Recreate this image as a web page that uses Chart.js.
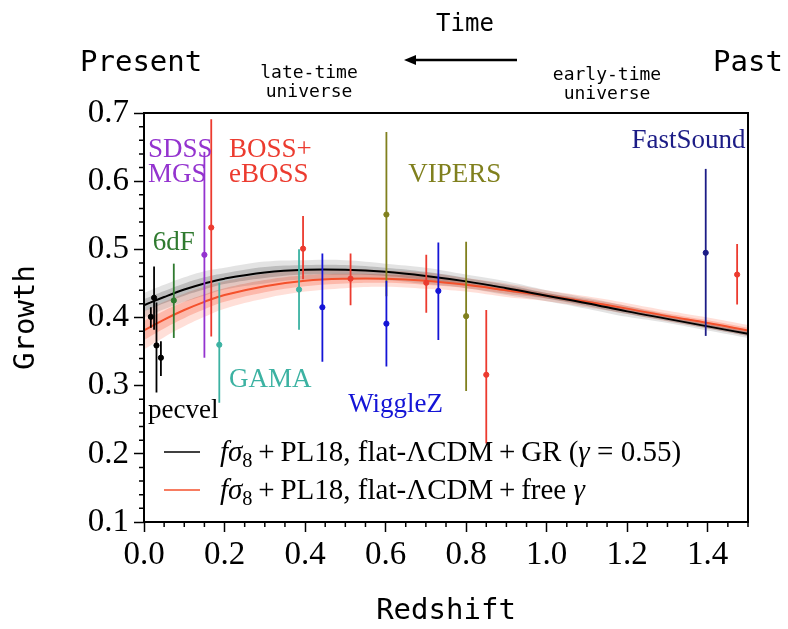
<!DOCTYPE html>
<html>
<head>
<meta charset="utf-8">
<title>Growth of structure vs redshift</title>
<script src="https://cdn.jsdelivr.net/npm/chart.js@4.4.1/dist/chart.umd.min.js"></script>
<style>
  html, body { margin: 0; padding: 0; background: #fff; }
</style>
</head>
<body>
<canvas id="growthChart" width="788" height="629"></canvas>
<script>

/* ================= DATA ================= */

const xTicks = [0.0, 0.2, 0.4, 0.6, 0.8, 1.0, 1.2, 1.4];
const yTicks = [0.1, 0.2, 0.3, 0.4, 0.5, 0.6, 0.7];

// model curves (fsigma8 vs z)
const curveZ   = [0, 0.05, 0.1, 0.15, 0.2, 0.3, 0.4, 0.5, 0.6, 0.7, 0.8, 0.9, 1.0, 1.1, 1.2, 1.3, 1.4, 1.5];
const grFs8    = [0.418, 0.430, 0.441, 0.450, 0.457, 0.466, 0.470, 0.470, 0.467, 0.461, 0.453, 0.443, 0.432, 0.421, 0.409, 0.398, 0.387, 0.376];
const grErr    = [0.009, 0.009, 0.009, 0.009, 0.008, 0.008, 0.007, 0.007, 0.006, 0.006, 0.005, 0.005, 0.004, 0.004, 0.004, 0.003, 0.003, 0.003];
const freeFs8  = [0.381, 0.397, 0.411, 0.423, 0.433, 0.446, 0.454, 0.457, 0.457, 0.454, 0.448, 0.440, 0.432, 0.423, 0.413, 0.402, 0.392, 0.381];
const freeErr  = [0.014, 0.013, 0.012, 0.011, 0.010, 0.009, 0.008, 0.007, 0.006, 0.006, 0.005, 0.005, 0.004, 0.004, 0.004, 0.004, 0.004, 0.004];

// measurements: [z, value, low, high]
const pecvel    = [[0.017, 0.401, 0.385, 0.415], [0.025, 0.429, 0.382, 0.475], [0.031, 0.359, 0.290, 0.422], [0.042, 0.341, 0.314, 0.365]];
const sixdf     = [[0.074, 0.425, 0.370, 0.479]];
const sdssMgs   = [[0.150, 0.492, 0.341, 0.643]];
const bossEboss = [[0.167, 0.532, 0.372, 0.691], [0.395, 0.501, 0.456, 0.549], [0.513, 0.457, 0.418, 0.494],
                   [0.701, 0.451, 0.407, 0.492], [0.850, 0.316, 0.215, 0.411], [1.473, 0.463, 0.419, 0.508]];
const gama      = [[0.187, 0.360, 0.275, 0.451], [0.385, 0.441, 0.382, 0.500]];
const wigglez   = [[0.443, 0.415, 0.335, 0.494], [0.602, 0.391, 0.328, 0.454], [0.731, 0.439, 0.367, 0.510]];
const vipers    = [[0.602, 0.551, 0.431, 0.672], [0.800, 0.402, 0.292, 0.511]];
const fastsound = [[1.395, 0.495, 0.373, 0.618]];

/* ================= STYLE ================= */

const surveys = [
  { name: "VIPERS",    points: vipers,    color: "#80801e" },
  { name: "BOSS",      points: bossEboss, color: "#ec3b2f" },
  { name: "SDSS MGS",  points: sdssMgs,   color: "#9433cf" },
  { name: "GAMA",      points: gama,      color: "#3cb2a2" },
  { name: "WiggleZ",   points: wigglez,   color: "#1414d6" },
  { name: "6dF",       points: sixdf,     color: "#2f7a2f" },
  { name: "FastSound", points: fastsound, color: "#1c1c86" },
  { name: "pecvel",    points: pecvel,    color: "#000000" }
];

const colorOf = name => surveys.find(s => s.name === name).color;

const surveyLabels = [
  { text: "SDSS",      x: 0.010, y: 0.635, color: colorOf("SDSS MGS") },
  { text: "MGS",       x: 0.010, y: 0.599, color: colorOf("SDSS MGS") },
  { text: "BOSS+",     x: 0.211, y: 0.635, color: colorOf("BOSS") },
  { text: "eBOSS",     x: 0.211, y: 0.599, color: colorOf("BOSS") },
  { text: "6dF",       x: 0.022, y: 0.499, color: colorOf("6dF") },
  { text: "VIPERS",    x: 0.656, y: 0.599, color: colorOf("VIPERS") },
  { text: "FastSound", x: 1.494, y: 0.649, color: colorOf("FastSound"), align: "right" },
  { text: "GAMA",      x: 0.211, y: 0.298, color: colorOf("GAMA") },
  { text: "WiggleZ",   x: 0.507, y: 0.261, color: colorOf("WiggleZ") },
  { text: "pecvel",    x: 0.010, y: 0.253, color: colorOf("pecvel") }
];

const MONO = "'DejaVu Sans Mono', monospace";
const SERIF = "'Liberation Serif', serif";
const TS = "\u2009"; // thin space around math operators

/* ================= DATASETS ================= */

function curvePts(vals, errs, k) {
  return curveZ.map((z, i) => ({ x: z, y: vals[i] + k * errs[i] }));
}

function bandPair(vals, errs, k, color, order) {
  return [
    { type: "line", data: curvePts(vals, errs, k), borderWidth: 0, pointRadius: 0,
      backgroundColor: color, fill: "+1", tension: 0.4, order: order },
    { type: "line", data: curvePts(vals, errs, -k), borderWidth: 0, pointRadius: 0,
      fill: false, tension: 0.4, order: order }
  ];
}

const datasets = [
  ...bandPair(freeFs8, freeErr, 2, "rgba(255,120,90,0.24)", 20),
  ...bandPair(freeFs8, freeErr, 1, "rgba(250,95,65,0.30)", 19),
  ...bandPair(grFs8, grErr, 2, "rgba(0,0,0,0.11)", 18),
  ...bandPair(grFs8, grErr, 1, "rgba(0,0,0,0.17)", 17),
  { type: "line", label: "free", data: curvePts(freeFs8, freeErr, 0), borderColor: "#f4512c",
    borderWidth: 2, pointRadius: 0, fill: false, tension: 0.4, order: 16 },
  { type: "line", label: "gr", data: curvePts(grFs8, grErr, 0), borderColor: "#000000",
    borderWidth: 2, pointRadius: 0, fill: false, tension: 0.4, order: 15 }
];

surveys.forEach((s, i) => {
  const bars = [];
  s.points.forEach(p => {
    bars.push({ x: p[0], y: p[2] }, { x: p[0], y: p[3] }, { x: p[0], y: null });
  });
  datasets.push({
    type: "line", data: bars, borderColor: s.color, borderWidth: 1.8,
    pointRadius: 0, fill: false, spanGaps: false, order: 10 - i
  });
  datasets.push({
    type: "scatter", data: s.points.map(p => ({ x: p[0], y: p[1] })),
    backgroundColor: s.color, borderColor: s.color, pointRadius: 2.6, order: 10 - i
  });
});

/* ================= DECORATION ================= */

function drawSegments(ctx, x, y, segs, size) {
  segs.forEach(seg => {
    const sz = seg.sub ? size * 0.7 : size;
    ctx.font = (seg.it ? "italic " : "") + sz + "px " + SERIF;
    ctx.fillText(seg.t, x, y + (seg.sub ? size * 0.2 : 0));
    x += ctx.measureText(seg.t).width;
  });
}

const decorPlugin = {
  id: "decor",
  afterDraw(chart) {
    const ctx = chart.ctx;
    const { left, right, top, bottom } = chart.chartArea;
    const xs = chart.scales.x, ys = chart.scales.y;

    ctx.save();

    // frame
    ctx.strokeStyle = "#000";
    ctx.lineWidth = 2;
    ctx.strokeRect(left, top, right - left, bottom - top);

    // minor ticks
    ctx.lineWidth = 1.5;
    ctx.beginPath();
    for (let k = 0; k <= 30; k++) {
      if (k % 5 === 0) continue;
      const py = ys.getPixelForValue(0.1 + k * 0.02);
      ctx.moveTo(left, py); ctx.lineTo(left - 5, py);
    }
    for (let k = 0; k <= 30; k++) {
      if (k % 4 === 0) continue;
      const px = xs.getPixelForValue(k * 0.05);
      ctx.moveTo(px, bottom); ctx.lineTo(px, bottom + 5);
    }
    ctx.stroke();

    // survey labels
    ctx.textBaseline = "alphabetic";
    ctx.font = "27px " + SERIF;
    surveyLabels.forEach(l => {
      ctx.fillStyle = l.color;
      ctx.textAlign = l.align || "left";
      ctx.fillText(l.text, xs.getPixelForValue(l.x), ys.getPixelForValue(l.y));
    });
    ctx.textAlign = "left";

    // legend
    const grSet = chart.data.datasets.find(d => d.label === "gr");
    const freeSet = chart.data.datasets.find(d => d.label === "free");
    const rows = [
      { y: 452, color: grSet.borderColor,
        segs: [{ t: "f", it: 1 }, { t: "σ", it: 1 }, { t: "8", sub: 1 },
               { t: TS + "+" + TS + "PL18, flat-ΛCDM" + TS + "+" + TS + "GR (" }, { t: "γ", it: 1 },
               { t: " = 0.55)" }] },
      { y: 490, color: freeSet.borderColor,
        segs: [{ t: "f", it: 1 }, { t: "σ", it: 1 }, { t: "8", sub: 1 },
               { t: TS + "+" + TS + "PL18, flat-ΛCDM" + TS + "+" + TS + "free " }, { t: "γ", it: 1 }] }
    ];
    rows.forEach(r => {
      ctx.strokeStyle = r.color;
      ctx.lineWidth = 1.5;
      ctx.beginPath();
      ctx.moveTo(164, r.y); ctx.lineTo(200, r.y);
      ctx.stroke();
      ctx.fillStyle = "#000";
      drawSegments(ctx, 220, r.y + 9, r.segs, 29);
    });

    // header: time direction
    ctx.fillStyle = "#000";
    ctx.textAlign = "center";
    ctx.font = "24px " + MONO;
    ctx.fillText("Time", 465, 31);
    ctx.font = "29px " + MONO;
    ctx.textAlign = "left";
    ctx.fillText("Present", 80, 71);
    ctx.fillText("Past", 713, 71);
    ctx.textAlign = "center";
    ctx.font = "18px " + MONO;
    ctx.fillText("late-time", 309, 78);
    ctx.fillText("universe", 309, 97);
    ctx.fillText("early-time", 607, 80);
    ctx.fillText("universe", 607, 99);

    ctx.strokeStyle = "#000";
    ctx.lineWidth = 2.5;
    ctx.beginPath();
    ctx.moveTo(517, 60); ctx.lineTo(412, 60);
    ctx.stroke();
    ctx.beginPath();
    ctx.moveTo(404, 60); ctx.lineTo(416, 55); ctx.lineTo(416, 65);
    ctx.closePath();
    ctx.fill();

    ctx.restore();
  }
};

/* ================= CHART ================= */

new Chart(document.getElementById("growthChart"), {
  type: "scatter",
  data: { datasets },
  options: {
    responsive: false,
    animation: false,
    layout: { padding: { top: 113, right: 40, left: 0, bottom: 0 } },
    plugins: { legend: { display: false }, tooltip: { enabled: false } },
    scales: {
      x: {
        type: "linear", min: 0, max: 1.5,
        afterBuildTicks: s => { s.ticks = xTicks.map(v => ({ value: v })); },
        afterFit: s => { s.height = 107; },
        ticks: { callback: v => v.toFixed(1), color: "#000", padding: 4,
                 font: { family: SERIF, size: 33 }, maxRotation: 0 },
        grid: { drawOnChartArea: false, tickLength: 10, tickColor: "#000", tickWidth: 1.5 },
        border: { display: false },
        title: { display: true, text: "Redshift", color: "#000",
                 font: { family: MONO, size: 29 }, padding: { top: 0, bottom: 0 } }
      },
      y: {
        type: "linear", min: 0.1, max: 0.7,
        afterBuildTicks: s => { s.ticks = yTicks.map(v => ({ value: v })); },
        afterFit: s => { s.width = 144; },
        ticks: { callback: v => v.toFixed(1), color: "#000", padding: 5,
                 font: { family: SERIF, size: 33 } },
        grid: { drawOnChartArea: false, tickLength: 10, tickColor: "#000", tickWidth: 1.5 },
        border: { display: false },
        title: { display: true, text: "Growth", color: "#000",
                 font: { family: MONO, size: 29 }, padding: { top: 9, bottom: 0 } }
      }
    }
  },
  plugins: [decorPlugin]
});
</script>
</body>
</html>
